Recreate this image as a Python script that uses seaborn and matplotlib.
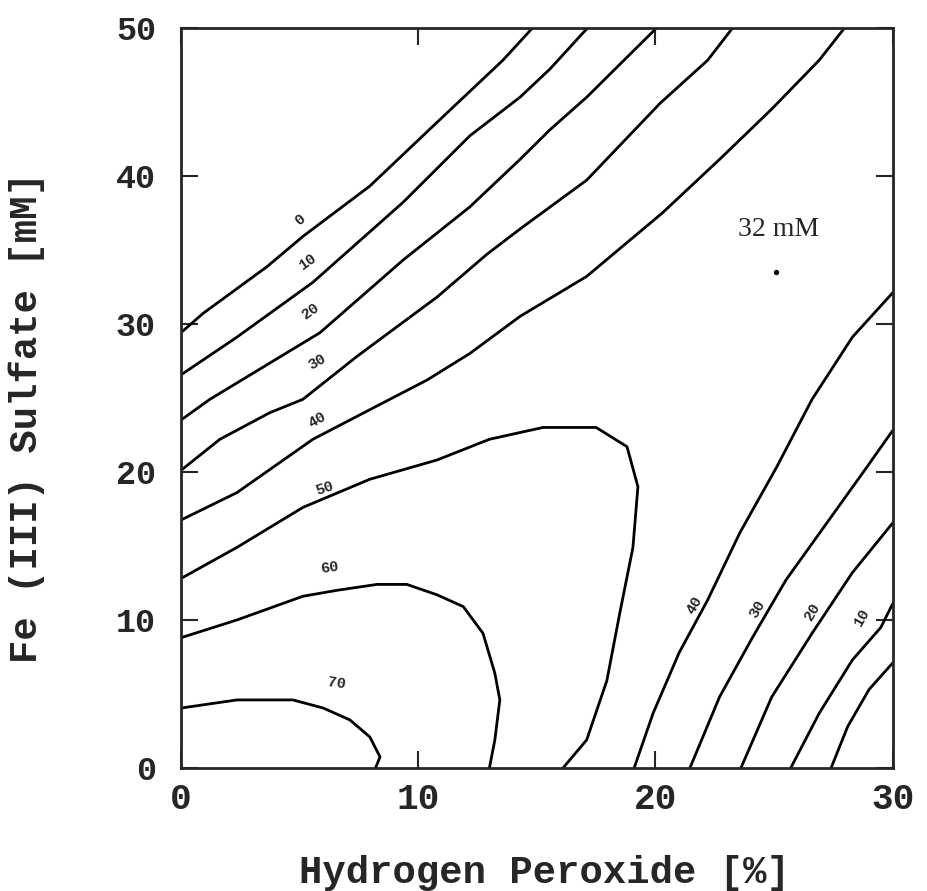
import numpy as np
import pandas as pd
import seaborn as sns
import matplotlib.pyplot as plt

sns.set_style("ticks")
plt.rcParams["font.family"] = ["Liberation Mono", "DejaVu Sans Mono"]
plt.rcParams["font.weight"] = "bold"

# contour lines (x = H2O2 %, y = Fe(III) mM)
# upper-left family: run from the left edge to the top edge
c0_x = [0, 0.93, 3.62, 5.14, 7.96, 10.79, 13.57, 14.83]
c0_y = [29.4, 30.7, 33.85, 35.9, 39.3, 43.6, 47.8, 50]
c10_x = [0, 2.36, 5.56, 9.36, 12.18, 14.29, 15.55, 17.15]
c10_y = [26.55, 29.1, 32.8, 38.2, 42.7, 45.3, 47.2, 50]
c20_x = [0, 1.22, 5.86, 9.36, 12.18, 14.29, 15.55, 17.1, 20.06]
c20_y = [23.5, 24.9, 29.4, 34.3, 37.9, 41.1, 43.1, 45.3, 50]
c30_x = [0, 1.64, 3.75, 5.14, 7.42, 10.79, 12.9, 14.29, 17.1, 20.2, 22.2, 23.26]
c30_y = [20.1, 22.2, 24.0, 24.9, 27.8, 31.8, 34.7, 36.4, 39.7, 44.9, 47.8, 50]
c40_x = [0, 2.36, 5.56, 7.96, 10.37, 12.18, 14.29, 17.1, 20.3, 22.7, 24.9, 26.9, 27.98]
c40_y = [16.75, 18.6, 22.2, 24.2, 26.2, 28.0, 30.5, 33.2, 37.5, 41.1, 44.5, 47.8, 50]
# closed families: from the left edge round to the bottom edge
c50_x = [0, 2.36, 5.14, 7.96, 10.79, 13.0, 15.26, 17.5, 18.8, 19.26, 19.05, 18.5, 17.95, 17.1, 16.1]
c50_y = [12.8, 14.9, 17.6, 19.5, 20.8, 22.2, 23.0, 23.0, 21.7, 19.0, 14.9, 10.5, 5.9, 1.9, 0]
c60_x = [0, 2.36, 5.14, 6.57, 8.26, 9.52, 10.79, 11.9, 12.73, 13.23, 13.44, 13.23, 13.0]
c60_y = [8.8, 10.0, 11.6, 12.0, 12.4, 12.4, 11.7, 10.9, 9.1, 6.4, 4.6, 1.9, 0]
c70_x = [0, 2.36, 4.72, 6.0, 7.12, 7.96, 8.39, 8.2]
c70_y = [4.05, 4.6, 4.6, 4.05, 3.25, 2.1, 0.75, 0]
# lower-right family: from the bottom edge to the right edge
r40_x = [19.1, 19.9, 21.0, 22.2, 23.56, 25.1, 26.6, 28.3, 30]
r40_y = [0, 3.7, 7.8, 11.35, 15.9, 20.3, 24.9, 29.1, 32.1]
r30_x = [21.45, 22.7, 24.1, 25.5, 27.2, 28.9, 30]
r30_y = [0, 4.8, 8.85, 12.7, 16.5, 20.3, 22.8]
r20_x = [23.6, 24.9, 26.6, 28.3, 30]
r20_y = [0, 4.8, 9.1, 13.2, 16.55]
r10_x = [25.7, 26.9, 28.3, 29.5, 30]
r10_y = [0, 3.7, 7.3, 9.5, 11.1]
r0_x = [27.4, 28.1, 29.0, 30]
r0_y = [0, 2.8, 5.3, 7.1]

branches = {
    "c0": (c0_x, c0_y), "c10": (c10_x, c10_y), "c20": (c20_x, c20_y),
    "c30": (c30_x, c30_y), "c40": (c40_x, c40_y), "c50": (c50_x, c50_y),
    "c60": (c60_x, c60_y), "c70": (c70_x, c70_y), "r40": (r40_x, r40_y),
    "r30": (r30_x, r30_y), "r20": (r20_x, r20_y), "r10": (r10_x, r10_y),
    "r0": (r0_x, r0_y),
}
df = pd.concat(
    [pd.DataFrame({"branch": k, "x": v[0], "y": v[1]}) for k, v in branches.items()],
    ignore_index=True,
)

# contour labels: text, position, rotation
lab_text = ["0", "10", "20", "30", "40", "50", "60", "70", "40", "30", "20", "10"]
lab_x = [5.0, 5.35, 5.44, 5.73, 5.73, 6.07, 6.28, 6.57, 21.66, 24.3, 26.6, 28.7]
lab_y = [37.0, 34.2, 30.8, 27.4, 23.5, 18.9, 13.5, 5.7, 11.0, 10.7, 10.5, 10.2]
lab_rot = [40, 35, 35, 30, 30, 18, 8, -8, 60, 60, 60, 60]

opt_x, opt_y = [25.1], [33.5]

fig = plt.figure(figsize=(9.28, 8.91), dpi=100)
ax = fig.add_axes([0.195, 0.138, 0.767, 0.831])

sns.lineplot(data=df, x="x", y="y", units="branch", estimator=None, sort=False,
             color="black", linewidth=2.0, ax=ax)
ax.scatter(opt_x, opt_y, s=8, color="black", zorder=3)
ax.text(25.2, 36.35, "32 mM", family="Liberation Serif", weight="normal",
        fontsize=20, ha="center", va="center")

for t, x, y, r in zip(lab_text, lab_x, lab_y, lab_rot):
    ax.text(x, y, t, fontsize=11, weight="bold", rotation=r,
            ha="center", va="center")

ax.set_xlim(0, 30)
ax.set_ylim(0, 50)
ax.set_xticks([0, 10, 20, 30])
ax.set_yticks([0, 10, 20, 30, 40, 50])
ax.tick_params(direction="in", length=12, width=1.5, top=True, right=True)
ax.tick_params(axis="y", pad=18, labelsize=24)
ax.tick_params(axis="x", pad=10, labelsize=26)
for s in ax.spines.values():
    s.set_linewidth(2)
ax.set_xlabel("Hydrogen Peroxide [%]", fontsize=28, weight="bold")
ax.set_ylabel("Fe (III) Sulfate [mM]", fontsize=28, weight="bold")
ax.xaxis.set_label_coords(0.511, -0.117)
ax.yaxis.set_label_coords(-0.191, 0.474)

fig.savefig("out.png", dpi=100)
